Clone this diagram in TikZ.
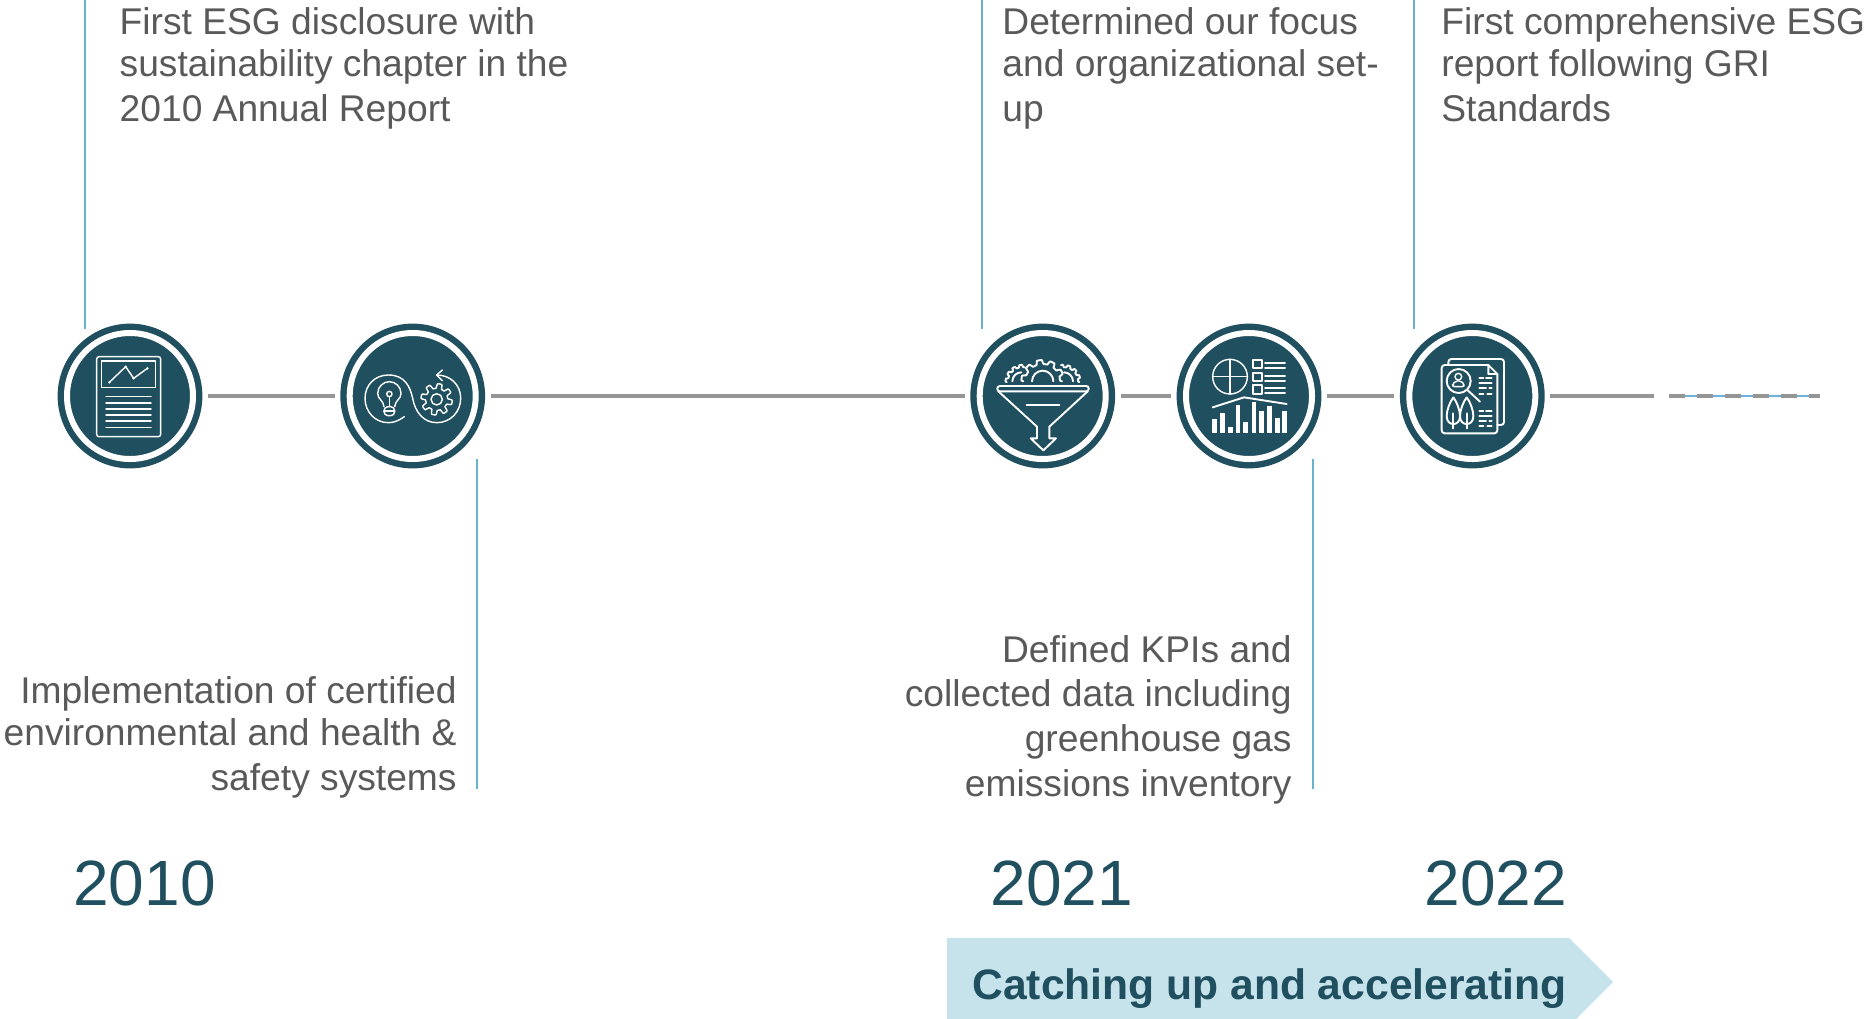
\documentclass[tikz,border=0pt]{standalone}
\usepackage{fontspec}
\setmainfont{Liberation Sans}
\definecolor{tealdk}{HTML}{20505F}
\definecolor{graytx}{HTML}{595959}
\definecolor{grayln}{HTML}{959595}
\definecolor{bluevl}{HTML}{6BB2CC}
\definecolor{bannerbg}{HTML}{C6E2EB}
\definecolor{dashblue}{HTML}{6CB2DC}
\tikzset{
  badge/.style={circle,fill=tealdk,minimum size=72.4pt,inner sep=0pt,outer sep=2.8pt,
    path picture={\draw[white,line width=3pt] (path picture bounding box.center) circle (31.5pt);}},
  spine/.style={draw=grayln,line width=2.4pt},
  stem/.style={draw=bluevl,line width=1.1pt},
  lefttx/.style={anchor=base west,align=left,inner sep=0pt,text=graytx,font=\fontsize{18.6}{22.3}\selectfont},
  righttx/.style={anchor=base east,align=right,inner sep=0pt,text=graytx,font=\fontsize{18.6}{22.3}\selectfont},
  yeartx/.style={anchor=base west,inner sep=0pt,text=tealdk,font=\fontsize{32}{36}\selectfont},
  zc/.style 2 args={shift={(#1,#2)},x=0.1666667pt,y=-0.1666667pt},
  ic/.style={draw=white,line width=.7pt,line join=round,line cap=round},
  icb/.style={draw=white,line width=.95pt,line join=round,line cap=round},
}
\begin{document}
\begin{tikzpicture}[x=0.5pt,y=-0.5pt]
\useasboundingbox (0,0) rectangle (1871,1018);
% banner
\begin{scope}
\clip (0,0) rectangle (1871,1018);
\fill[bannerbg] (947,938) -- (1569,938) -- (1613,982) -- (1569,1026) -- (947,1026) -- cycle;
\end{scope}
\node[anchor=base west,inner sep=0pt,text=tealdk,font=\fontsize{21.3}{24}\selectfont\bfseries] (bannertx) at (972,999) {Catching up and accelerating};
% circles
\node[badge] (c1) at (130,396) {};
\node[badge] (c2) at (412.7,396) {};
\node[badge] (c3) at (1042.7,396) {};
\node[badge] (c4) at (1249,396) {};
\node[badge] (c5) at (1472.3,396) {};
\coordinate (t1) at (1654,396);
\coordinate (t2) at (1669,396);
\coordinate (t3) at (1820,396);
\draw[spine] (c1) -- (c2);
\draw[spine] (c2) -- (c3);
\draw[spine] (c3) -- (c4);
\draw[spine] (c4) -- (c5);
\draw[spine] (c5) -- (t1);
\draw[dashblue,line width=.6pt] (t2) -- (t3);
\draw[spine,dash pattern=on 8pt off 6pt] (t2) -- (t3);
% stems
\coordinate (s1a) at (85.3,0); \coordinate (s1b) at (85.3,329);
\coordinate (s2a) at (477,459); \coordinate (s2b) at (477,789);
\coordinate (s3a) at (982,0); \coordinate (s3b) at (982,329);
\coordinate (s4a) at (1313,459); \coordinate (s4b) at (1313,789);
\coordinate (s5a) at (1413.7,0); \coordinate (s5b) at (1413.7,329);
\draw[stem] (s1a) -- (s1b);
\draw[stem] (s2a) -- (s2b);
\draw[stem] (s3a) -- (s3b);
\draw[stem] (s4a) -- (s4b);
\draw[stem] (s5a) -- (s5b);
% texts
\node[lefttx] (a1) at (119.3,121.5) {First ESG disclosure with\\[-1.3pt]sustainability chapter in the\\2010 Annual Report};
\node[righttx] (a2) at (457,790) {Implementation of certified\\[-1.3pt]environmental and health \&\\safety systems};
\node[lefttx] (a3) at (1002,121.5) {Determined our focus\\[-1.3pt]and organizational set-\\up};
\node[righttx] (a4) at (1292,796) {Defined KPIs and\\collected data including\\greenhouse gas\\emissions inventory};
\node[lefttx] (a5) at (1441,121.5) {First comprehensive ESG\\[-1.3pt]report following GRI\\Standards};
\node[yeartx] (y1) at (73,905) {2010};
\node[yeartx] (y2) at (990,905) {2021};
\node[yeartx] (y3) at (1424,905) {2022};
% icon 1
\begin{scope}[zc={40}{310}]
\draw[ic,rounded corners=1.2pt] (170,140) rectangle (362,380);
\draw[ic] (184,153) rectangle (347,232);
\draw[ic] (208,217) -- (257,170) -- (281,205) -- (322,175);
\foreach \p in {(208,217),(257,170),(281,205),(322,175)} \fill[white] \p circle (4);
\foreach \yy in {260,279,297,315,333,352} \draw[ic] (198,\yy) -- (333,\yy);
% icon 2
\draw[ic] (1093,320) .. controls (1075,333) and (1060,338) .. (1045,338)
  .. controls (1005,338) and (975,305) .. (975,265)
  .. controls (975,225) and (1005,195) .. (1045,195)
  .. controls (1095,195) and (1110,230) .. (1118,265)
  .. controls (1125,305) and (1150,338) .. (1190,338)
  .. controls (1232,338) and (1262,305) .. (1262,265)
  .. controls (1262,225) and (1232,195) .. (1190,195);
\draw[ic] (1207,180) -- (1190,195) -- (1207,212);
\draw[ic] (1032,290) .. controls (1030,270) and (1013,268) .. (1013,250)
  .. controls (1013,230) and (1030,215) .. (1048,215)
  .. controls (1066,215) and (1083,230) .. (1083,250)
  .. controls (1083,268) and (1066,270) .. (1064,290);
\draw[ic,rounded corners=2pt] (1032,290) -- (1032,317) -- (1064,317) -- (1064,290) -- cycle;
\draw[ic] (1032,303) -- (1064,303);
\draw[ic] (1048,252) circle (8);
\draw[ic] (1048,260) -- (1048,290);
\draw[ic] (1190,268) circle (17);
\draw[ic,shift={(1190,268)}] plot[domain=0:360,samples=161] (\x:{40+7*max(-1,min(1,2.5*sin(8*\x)))}) -- cycle;
\end{scope}
% icon 3
\begin{scope}[zc={960}{310}]
\draw[icb,rounded corners=1.2pt] (112,228) rectangle (386,244);
\draw[icb] (115,244) -- (231,350) -- (231,385) -- (212,385) -- (250,421) -- (288,385) -- (268,385) -- (268,350) -- (383,244);
\draw[icb] (200,285) -- (298,285);
\draw[icb,shift={(248,214)}] plot[domain=180:360,samples=100] (\x:{62-4+6*max(-1,min(1,2.5*sin(10*\x)))});
\draw[icb] (216,214) arc[start angle=180,end angle=360,radius=32];
\draw[icb,shift={(188,216)}] plot[domain=180:278,samples=60] (\x:{48+3.5*max(-1,min(1,2.5*sin(14*\x)))});
\draw[icb] (157,214) arc[start angle=180,end angle=270,radius=27];
\draw[icb,shift={(310,216)}] plot[domain=262:360,samples=60] (\x:{48+3.5*max(-1,min(1,2.5*sin(14*\x)))});
\draw[icb] (339,214) arc[start angle=360,end angle=270,radius=27];
\end{scope}
% icon 4
\begin{scope}[zc={1170}{320}]
\draw[ic] (180,170) circle (52);
\draw[ic] (128,170) -- (232,170);
\draw[ic] (180,118) -- (180,222);
\foreach \yy in {120,158,196} \draw[icb] (248,\yy) rectangle ++(27,25);
\foreach \yy in {130,145,168,183,205,218} \draw[icb] (285,\yy) -- (345,\yy);
\draw[icb] (128,262) -- (222,232) -- (350,252);
\foreach \xx/\tt in {127/296,150/280,174/322,197/256,220/306,245/246,268/274,291/258,315/294,337/274}
  \fill[white] (\xx,\tt) rectangle ++(14,{340-\tt});
\end{scope}
% icon 5
\begin{scope}[zc={1380}{310}]
\draw[icb,rounded corners=1.5pt] (325,165) -- (185,165) -- (185,370) -- (352,370) -- (352,192);
\draw[icb] (352,192) -- (325,165) -- (325,192) -- (352,192);
\draw[icb,rounded corners=1.5pt] (205,165) -- (205,147) -- (372,147) -- (372,345) -- (352,345);
\draw[icb] (236,213) circle (36);
\draw[icb] (262,240) -- (300,275);
\draw[ic] (235,200) circle (10);
\draw[ic,rounded corners=1pt] (218,230) -- (218,222) -- (226,213) -- (244,213) -- (252,222) -- (252,230) -- cycle;
\foreach \xx in {220,260}{
  \draw[icb] (\xx,262) .. controls (\xx-10,275) and (\xx-20,300) .. (\xx-20,318)
    .. controls (\xx-20,335) and (\xx-10,342) .. (\xx,342)
    .. controls (\xx+10,342) and (\xx+20,335) .. (\xx+20,318)
    .. controls (\xx+20,300) and (\xx+10,275) .. (\xx,262);
  \draw[icb] (\xx,310) -- (\xx,355);
}
\foreach \oo in {0,98}{
  \draw[icb] (298,204+\oo) -- (310,204+\oo) (318,204+\oo) -- (335,204+\oo);
  \draw[icb] (298,220+\oo) -- (335,220+\oo);
  \draw[icb] (298,235+\oo) -- (318,235+\oo) (328,235+\oo) -- (335,235+\oo);
  \draw[icb] (298,251+\oo) -- (310,251+\oo) (322,251+\oo) -- (335,251+\oo);
}
\end{scope}
\end{tikzpicture}
\end{document}
